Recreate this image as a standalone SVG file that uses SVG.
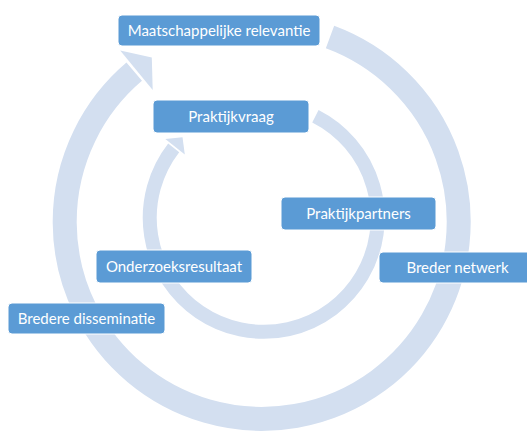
<svg xmlns="http://www.w3.org/2000/svg" width="527" height="432" viewBox="0 0 527 432">
<style>
.band{fill:none;stroke:#d3dff0}
.head{fill:#d3dff0}
.box{fill:#5b9bd5;stroke:#ffffff;stroke-width:1}
.lbl{font-family:Lato,"Liberation Sans",sans-serif;font-size:15px;fill:#ffffff;text-anchor:middle}
</style>
<rect width="527" height="432" fill="#ffffff"/>
<g id="connectors">
<path class="band" stroke-width="24" d="M330,37.1 A197,197 0 1 1 134.2,71.7"/>
<polygon class="head" points="120.2,50.6 151.8,57.5 152.7,89.9"/>
<path class="band" stroke-width="14" d="M315.4,116.2 A114,114 0 1 1 173.7,147.9"/>
<polygon class="head" points="165.3,138.9 182.5,137.3 184.8,154.5"/>
</g>
<g id="node-maatschappelijke">
<rect class="box" x="118" y="15" width="202" height="31" rx="4"/>
<text class="lbl" x="219" y="35.5">Maatschappelijke relevantie</text>
</g>
<g id="node-praktijkvraag">
<rect class="box" x="153" y="100" width="156" height="33" rx="4"/>
<text class="lbl" x="231" y="121.5">Praktijkvraag</text>
</g>
<g id="node-praktijkpartners">
<rect class="box" x="281" y="197" width="155" height="33" rx="4"/>
<text class="lbl" x="358.5" y="218.5">Praktijkpartners</text>
</g>
<g id="node-breder-netwerk">
<rect class="box" x="379" y="252" width="157" height="31" rx="4"/>
<text class="lbl" x="457.5" y="272.5">Breder netwerk</text>
</g>
<g id="node-onderzoeksresultaat">
<rect class="box" x="96" y="250" width="156" height="33" rx="4"/>
<text class="lbl" x="174" y="271.5">Onderzoeksresultaat</text>
</g>
<g id="node-bredere-disseminatie">
<rect class="box" x="8" y="303" width="157" height="31" rx="4"/>
<text class="lbl" x="86.5" y="323.5">Bredere disseminatie</text>
</g>
</svg>
